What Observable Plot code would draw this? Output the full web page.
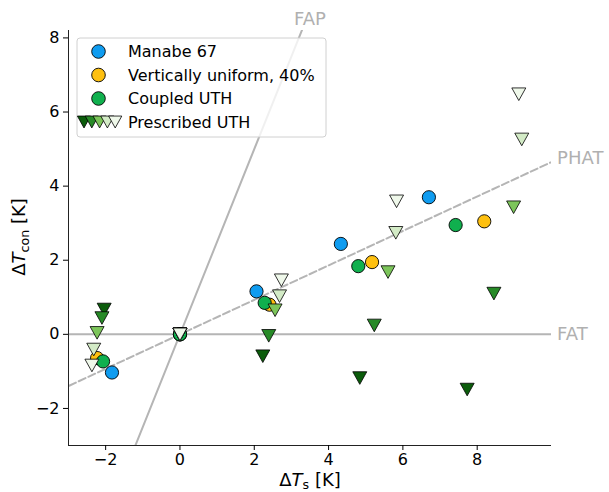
<!DOCTYPE html>
<html><head><meta charset="utf-8">
<script src="https://cdn.jsdelivr.net/npm/d3@7"></script>
<script src="https://cdn.jsdelivr.net/npm/@observablehq/plot@0.6"></script>
<style>body{margin:0;background:#fff;}</style>
</head><body><div id="chart"></div>
<script>
// ---- data ----
const seriesNames = ["Manabe 67", "Vertically uniform, 40%", "Coupled UTH"];
const seriesColors = ["#0f9cf0", "#fec010", "#10b04e"];
const manabeX  = [-1.83, 0, 2.06, 4.33, 6.70];
const manabeY  = [-1.03, 0, 1.16, 2.44, 3.70];
const uniformX = [-2.23, 0, 2.41, 5.17, 8.19];
const uniformY = [-0.64, 0, 0.80, 1.95, 3.05];
const coupledX = [-2.07, 0, 2.28, 4.80, 7.42];
const coupledY = [-0.73, 0, 0.85, 1.84, 2.95];

const prescribedName = "Prescribed UTH";
const prescribedColors = ["#0b5c0b", "#278a27", "#7cc55a", "#d3ebc6", "#eff8ea"];
const prescribedX = [
  [-2.04, 0, 2.23, 4.84, 7.73],
  [-2.10, 0, 2.39, 5.23, 8.45],
  [-2.23, 0, 2.56, 5.60, 8.98],
  [-2.32, 0, 2.68, 5.81, 9.20],
  [-2.37, 0, 2.73, 5.83, 9.12]
];
const prescribedY = [
  [0.67, 0, -0.59, -1.18, -1.49],
  [0.44, 0, -0.04, 0.24, 1.10],
  [0.04, 0, 0.65, 1.68, 3.43],
  [-0.41, 0, 1.03, 2.74, 5.26],
  [-0.84, 0, 1.46, 3.59, 6.48]
];

const xTicks = [-2, 0, 2, 4, 6, 8];
const yTicks = [-2, 0, 2, 4, 6, 8];
const xDomain = [-3, 10];
const yDomain = [-3, 8.2];

// reference lines: FAT (y=0), FAP (steep), PHAT (dashed)
const fapSlope = 2.5;
const phatSlope = 0.465;
const topLabels = [{x: 3.5, y: 8.5, text: "FAP"}];
const sideLabels = [
  {x: 10.15, y: 4.76, text: "PHAT"},
  {x: 10.15, y: 0, text: "FAT"}
];

// ---- build tables ----
const circleData = [];
[[manabeX, manabeY], [uniformX, uniformY], [coupledX, coupledY]].forEach(([xs, ys], s) => {
  xs.forEach((x, i) => circleData.push({x, y: ys[i], series: seriesNames[s], color: seriesColors[s]}));
});
const triData = [];
prescribedX.forEach((xs, s) => xs.forEach((x, i) => triData.push({x, y: prescribedY[s][i], color: prescribedColors[s]})));

const lineXs = [-3.5, 10.5];
const fapLine = lineXs.map(x => ({x, y: fapSlope * x}));
const phatLine = lineXs.map(x => ({x, y: phatSlope * x}));

const triDown = {
  draw(ctx, size) {
    const r = Math.sqrt(size / Math.PI);
    const h = r * 0.9;
    ctx.moveTo(-r, -h);
    ctx.lineTo(r, -h);
    ctx.lineTo(0, h);
    ctx.closePath();
  }
};

const grey = "#b5b5b5";
const plot = Plot.plot({
  width: 609, height: 492,
  marginLeft: 68, marginRight: 58, marginTop: 30, marginBottom: 47,
  style: {fontFamily: "DejaVu Sans", fontSize: "16px", color: "#000", background: "#fff", overflow: "visible"},
  x: {domain: xDomain, label: null},
  y: {domain: yDomain, label: null},
  marks: [
    Plot.ruleY([0], {stroke: grey, strokeWidth: 2}),
    Plot.line(fapLine, {x: "x", y: "y", stroke: grey, strokeWidth: 2, clip: true}),
    Plot.line(phatLine, {x: "x", y: "y", stroke: grey, strokeWidth: 2, strokeDasharray: "7.4,3.2", clip: true}),
    Plot.dot(circleData, {x: "x", y: "y", r: 6.6, fill: "color", stroke: "#000", strokeWidth: 0.9}),
    Plot.dot(triData, {x: "x", y: "y", r: 7, symbol: triDown, fill: "color", stroke: "#000", strokeWidth: 0.8}),
    Plot.ruleX([xDomain[0]], {stroke: "#222", strokeWidth: 1}),
    Plot.ruleY([yDomain[0]], {stroke: "#222", strokeWidth: 1}),
    Plot.axisX({ticks: xTicks, tickSize: 5, tickPadding: 3, fontSize: 16, label: null}),
    Plot.axisY({ticks: yTicks, tickSize: 5, tickPadding: 4, fontSize: 16, label: null}),
    Plot.text(topLabels, {x: "x", y: "y", text: "text", textAnchor: "middle", fill: "#b0b0b0", fontSize: 18}),
    Plot.text(sideLabels, {x: "x", y: "y", text: "text", textAnchor: "start", fill: "#b0b0b0", fontSize: 18})
  ]
});
document.getElementById("chart").appendChild(plot);

const svg = d3.select(plot);

// axis labels
const fs = 18;
const xl = svg.append("text").attr("x", 310).attr("y", 486).attr("text-anchor", "middle")
  .attr("font-family", "DejaVu Sans").attr("font-size", fs).attr("fill", "#000");
xl.append("tspan").text("Δ");
xl.append("tspan").attr("font-style", "italic").text("T");
xl.append("tspan").attr("font-size", fs * 0.7).attr("dy", 3).text("s");
xl.append("tspan").attr("dy", -3).text(" [K]");

const yl = svg.append("text").attr("transform", "translate(25,237) rotate(-90)").attr("text-anchor", "middle")
  .attr("font-family", "DejaVu Sans").attr("font-size", fs).attr("fill", "#000");
yl.append("tspan").text("Δ");
yl.append("tspan").attr("font-style", "italic").text("T");
yl.append("tspan").attr("font-size", fs * 0.7).attr("dy", 3.5).text("con");
yl.append("tspan").attr("dy", -3.5).text(" [K]");

// legend
const lg = svg.append("g").attr("font-family", "DejaVu Sans").attr("font-size", 16).attr("text-anchor", "start");
lg.append("rect").attr("x", 77).attr("y", 38).attr("width", 249).attr("height", 99).attr("rx", 3)
  .attr("fill", "#fff").attr("fill-opacity", 0.8).attr("stroke", "#d0d0d0").attr("stroke-width", 1);
const rows = [51.5, 75, 98.5, 122];
seriesNames.forEach((name, i) => {
  lg.append("circle").attr("cx", 98.5).attr("cy", rows[i]).attr("r", 6.8)
    .attr("fill", seriesColors[i]).attr("stroke", "#000").attr("stroke-width", 0.9);
  lg.append("text").attr("x", 128).attr("y", rows[i]).attr("dy", "0.36em").attr("text-anchor", "start").text(name);
});
const triSym = d3.symbol(triDown, Math.PI * 6.6 * 6.6);
prescribedColors.forEach((c, k) => {
  lg.append("path").attr("d", triSym()).attr("transform", `translate(${84 + k * 7.8},${rows[3]})`)
    .attr("fill", c).attr("stroke", "#000").attr("stroke-width", 0.8);
});
lg.append("text").attr("x", 128).attr("y", rows[3]).attr("dy", "0.36em").attr("text-anchor", "start").text(prescribedName);
</script></body></html>
